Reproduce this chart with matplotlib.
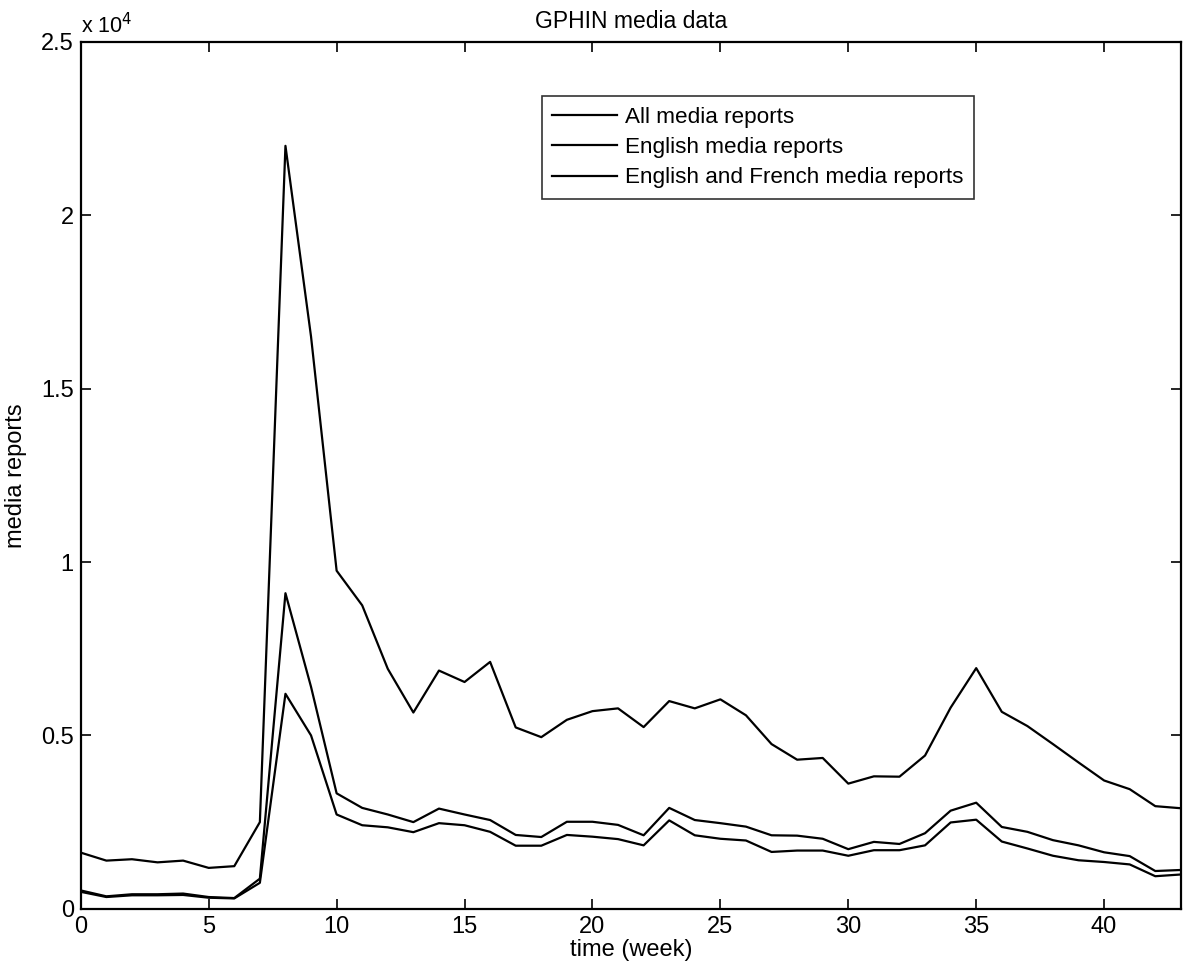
import numpy as np
import matplotlib.pyplot as plt
from matplotlib.ticker import FuncFormatter

plt.rcParams['font.family'] = ['Liberation Sans', 'DejaVu Sans']

# weekly GPHIN media report counts, week 0..43
weeks = np.arange(0, 44)
all_reports = [1620, 1390, 1430, 1340, 1390, 1180, 1230, 2500, 22000, 16500,
               9750, 8750, 6920, 5660, 6870, 6540, 7120, 5230, 4950, 5450,
               5700, 5780, 5240, 5990, 5780, 6040, 5580, 4750, 4300, 4350,
               3610, 3820, 3810, 4420, 5800, 6940, 5680, 5270, 4750, 4220,
               3700, 3450, 2960, 2900]
english_reports = [530, 360, 420, 420, 440, 340, 310, 870, 9100, 6400,
                   3330, 2910, 2720, 2500, 2890, 2720, 2560, 2130, 2070, 2510,
                   2510, 2420, 2120, 2910, 2560, 2470, 2370, 2120, 2110, 2020,
                   1720, 1930, 1870, 2180, 2830, 3060, 2360, 2220, 1980, 1830,
                   1630, 1520, 1090, 1120]
eng_fr_reports = [490, 340, 390, 390, 400, 320, 300, 750, 6200, 5000,
                  2720, 2410, 2350, 2210, 2470, 2410, 2220, 1820, 1820, 2130,
                  2080, 2010, 1830, 2550, 2120, 2020, 1970, 1640, 1680, 1680,
                  1530, 1690, 1690, 1830, 2490, 2570, 1940, 1740, 1530, 1400,
                  1350, 1280, 940, 990]

fig = plt.figure(figsize=(11.88, 9.72), dpi=100)
ax = fig.add_axes([0.068, 0.065, 0.926, 0.892])

ax.plot(weeks, all_reports, color='black', lw=1.6, label='All media reports')
ax.plot(weeks, english_reports, color='black', lw=1.6, label='English media reports')
ax.plot(weeks, eng_fr_reports, color='black', lw=1.6, label='English and French media reports')

ax.set_xlim(0, 43)
ax.set_ylim(0, 25000)
ax.set_xticks(np.arange(0, 41, 5))
ax.set_yticks(np.arange(0, 25001, 5000))
ax.yaxis.set_major_formatter(FuncFormatter(lambda v, p: '%g' % (v / 1e4)))
ax.tick_params(direction='in', length=7.5, width=1.2, labelsize=17,
               top=True, right=True, pad=5)
for s in ax.spines.values():
    s.set_linewidth(1.6)

ax.text(0.0, 1.004, r'x 10$^4$', transform=ax.transAxes, fontsize=15.5,
        ha='left', va='bottom')
ax.set_title('GPHIN media data', fontsize=16.5, pad=10)
ax.set_xlabel('time (week)', fontsize=17, labelpad=1)
ax.set_ylabel('media reports', fontsize=17, labelpad=10)

leg = ax.legend(loc='upper left', bbox_to_anchor=(0.419, 0.937), fontsize=16.2,
                frameon=True, fancybox=False, edgecolor='black',
                handlelength=2.9, handletextpad=0.35, borderpad=0.45,
                labelspacing=0.42, borderaxespad=0)
leg.get_frame().set_linewidth(1.2)

fig.savefig('out.png', dpi=100)
